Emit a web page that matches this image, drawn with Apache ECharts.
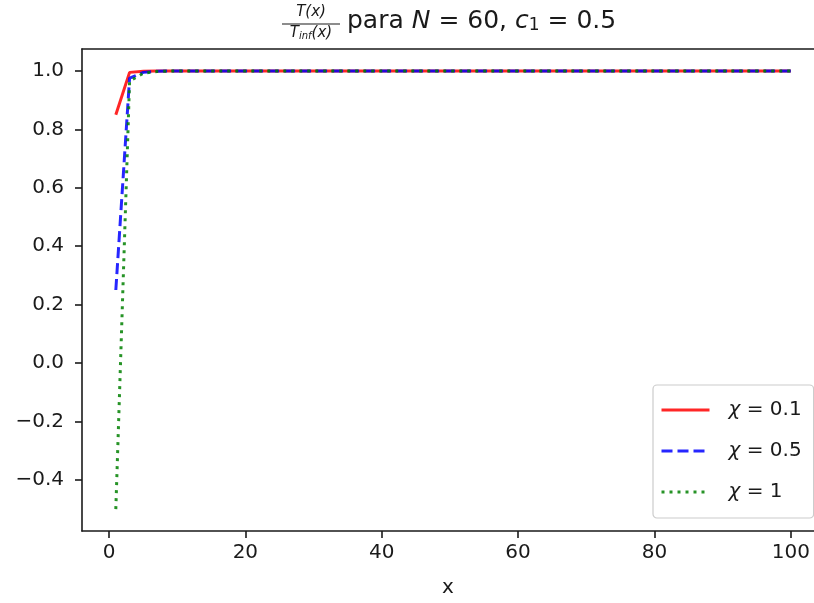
<!DOCTYPE html>
<html>
<head>
<meta charset="utf-8">
<script src="https://cdn.jsdelivr.net/npm/echarts@6/dist/echarts.min.js"></script>
<style>
html,body{margin:0;padding:0;background:#fff;}
#chart{width:814px;height:603px;}
</style>
</head>
<body>
<div id="chart"></div>
<script>
// x positions of the samples
const xValues = [1, 3.02, 5.04, 7.06, 10, 20, 30, 40, 50, 60, 70, 80, 90, 100];
// series values
const chi01 = [0.85, 0.995, 0.999, 1.0, 1.0, 1.0, 1.0, 1.0, 1.0, 1.0, 1.0, 1.0, 1.0, 1.0];
const chi05 = [0.25, 0.975, 0.995, 0.999, 1.0, 1.0, 1.0, 1.0, 1.0, 1.0, 1.0, 1.0, 1.0, 1.0];
const chi1  = [-0.5, 0.965, 0.992, 0.998, 1.0, 1.0, 1.0, 1.0, 1.0, 1.0, 1.0, 1.0, 1.0, 1.0];
const seriesNames = ['χ = 0.1', 'χ = 0.5', 'χ = 1'];
// tick labels
const xTicks = [0, 20, 40, 60, 80, 100];
const yTicks = [-0.4, -0.2, 0.0, 0.2, 0.4, 0.6, 0.8, 1.0];

const FONT = 'DejaVu Sans';
const INK = '#1a1a1a';
const chart = echarts.init(document.getElementById('chart'), null, {renderer: 'canvas'});

function pairs(vals){ return xValues.map((x,i)=>[x, vals[i]]); }

const option = {
  animation: false,
  backgroundColor: '#fff',
  grid: {left: 82, right: 0, top: 49, bottom: 72, containLabel: false, outerBoundsMode: 'none'},
  xAxis: [{
    type: 'value', min: -3.96, max: 103.4,
    name: 'x', nameLocation: 'middle', nameGap: 47,
    nameTextStyle: {fontFamily: FONT, fontSize: 20, color: INK},
    axisLine: {show: true, onZero: false, lineStyle: {color: INK, width: 1.6}},
    axisTick: {show: true, inside: false, length: 7, lineStyle: {color: INK, width: 1.6}, customValues: xTicks},
    axisLabel: {fontFamily: FONT, fontSize: 20, color: INK, margin: 12, customValues: xTicks,
      formatter: v => String(v)},
    splitLine: {show: false}
  }, {
    type: 'value', position: 'top', min: -3.96, max: 103.4,
    axisLine: {show: true, onZero: false, lineStyle: {color: INK, width: 1.6}},
    axisTick: {show: false}, axisLabel: {show: false}, splitLine: {show: false}
  }],
  yAxis: {
    type: 'value', min: -0.575, max: 1.075,
    axisLine: {show: true, onZero: false, lineStyle: {color: INK, width: 1.6}},
    axisTick: {show: true, inside: false, length: 7, lineStyle: {color: INK, width: 1.6}, customValues: yTicks},
    axisLabel: {fontFamily: FONT, fontSize: 20, color: INK, margin: 18, customValues: yTicks,
      formatter: v => (Math.round(v*10)/10).toFixed(1).replace('-', '\u2212')},
    splitLine: {show: false}
  },
  legend: {
    orient: 'vertical', left: 653, top: 385,
    padding: [15, 12, 16, 7],
    itemWidth: 48, itemHeight: 20, itemGap: 21,
    backgroundColor: 'rgba(255,255,255,0.8)',
    borderColor: '#cccccc', borderWidth: 1.2, borderRadius: 4,
    itemStyle: {opacity: 0},
    lineStyle: {width: 3},
    textStyle: {fontFamily: FONT, fontSize: 20, color: INK, lineHeight: 20, padding: [0, 0, 0, 14]},
    formatter: function(name){
      return '{i|χ}' + name.replace('χ', '');
    },
    data: seriesNames
  },
  series: [
    {name: seriesNames[0], type: 'line', data: pairs(chi01), symbol: 'none',
      lineStyle: {color: '#ff0000', width: 3, opacity: 0.85, cap: 'butt'}, itemStyle: {color: '#ff0000'}, z: 2},
    {name: seriesNames[1], type: 'line', data: pairs(chi05), symbol: 'none',
      lineStyle: {color: '#0000ff', width: 3, opacity: 0.85, type: [11, 5], cap: 'butt'}, itemStyle: {color: '#0000ff'}, z: 3},
    {name: seriesNames[2], type: 'line', data: pairs(chi1), symbol: 'none',
      lineStyle: {color: '#008000', width: 3, opacity: 0.85, type: [3, 5], cap: 'butt'}, itemStyle: {color: '#008000'}, z: 4}
  ],
  graphic: [
    {type: 'text', x: 311, y: 12, style: {text: 'T(x)', font: 'italic 15px "DejaVu Sans"', fill: INK, align: 'center', verticalAlign: 'middle'}},
    {type: 'line', shape: {x1: 282, y1: 24, x2: 340, y2: 24}, style: {stroke: INK, lineWidth: 1.2}},
    {type: 'text', x: 311, y: 33, style: {
      text: '{t|T}{s|inf}{t|(x)}', align: 'center', verticalAlign: 'middle',
      rich: {
        t: {font: 'italic 15px "DejaVu Sans"', fill: INK},
        s: {font: 'italic 10px "DejaVu Sans"', fill: INK, padding: [7, 0, 0, 0]}
      }}},
    {type: 'text', x: 347, y: 21, style: {
      text: '{n|para }{i|N}{n| = 60, }{i|c}{s|1}{n| = 0.5}', verticalAlign: 'middle',
      rich: {
        n: {font: '25px "DejaVu Sans"', fill: INK},
        i: {font: 'italic 25px "DejaVu Sans"', fill: INK},
        s: {font: '17px "DejaVu Sans"', fill: INK, padding: [10, 0, 0, 0]}
      }}}
  ]
};
option.legend.textStyle.rich = {i: {fontFamily: FONT, fontStyle: 'italic', fontSize: 20, color: INK, lineHeight: 20}};
chart.setOption(option);
</script>
</body>
</html>
